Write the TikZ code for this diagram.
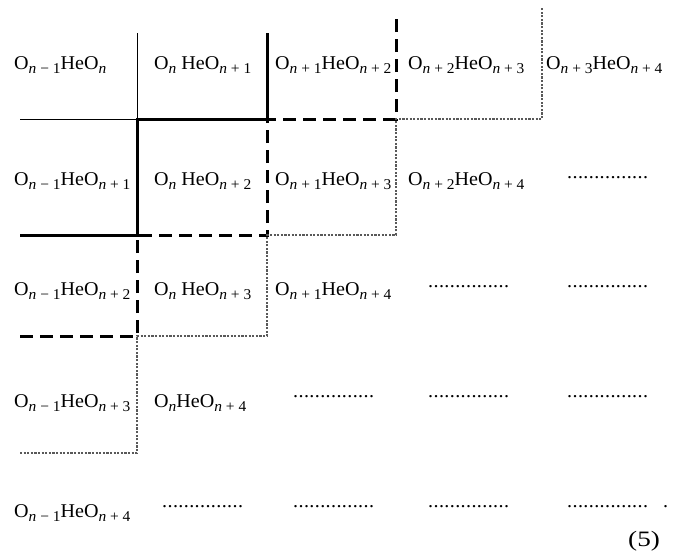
\documentclass[tikz,border=0pt]{standalone}
\usepackage{fontspec}
\setmainfont{Liberation Serif}[FakeStretch=1.03]
\newcommand\lw[1]{\raisebox{-4pt}{\fontsize{15}{16}\selectfont #1}}
\newcommand\nn{\textit{n}}
\newcommand\dt{.\kern0.4pt}
\newcommand\dts{\dt\dt\dt\dt\dt\dt\dt\dt\dt\dt\dt\dt\dt\dt.}
\tikzset{
  lbl/.style={anchor=base west, inner sep=0pt, font=\fontsize{19.5}{22}\selectfont},
  dotsnode/.style={anchor=west, inner sep=0pt, font=\fontsize{19.5}{22}\selectfont},
  thinrule/.style={line width=1pt},
  thickrule/.style={line width=3pt},
  dashrule/.style={line width=3pt, dash pattern=on 13pt off 7pt},
  dotrule/.style={line width=1.1pt, black!65, dash pattern=on 2.2pt off 1.4pt}
}
\begin{document}
\begin{tikzpicture}[x=1pt,y=-1pt]
\useasboundingbox (0,0) rectangle (674,550);
% grid coordinates
\coordinate (L1) at (20,119);  \coordinate (A1) at (137,119); \coordinate (A0) at (137,33);
\coordinate (L2) at (20,235);  \coordinate (A2) at (137,235); \coordinate (B1) at (267,119); \coordinate (B0) at (267,33);
\coordinate (L3) at (20,336);  \coordinate (A3) at (137,336); \coordinate (B2) at (267,235); \coordinate (C1) at (396,119); \coordinate (C0) at (396,15);
\coordinate (L4) at (20,453);  \coordinate (A4) at (137,453); \coordinate (B3) at (267,336); \coordinate (C2) at (396,235); \coordinate (D1) at (542,119); \coordinate (D0) at (542,7);
% staircases
\draw[thinrule] (L1) -- (A1) -- (A0);
\draw[thickrule] (L2) -- (A2) -- (A1) -- (B1) -- (B0);
\draw[dashrule] (L3) -- (A3) -- (A2) -- (B2) -- (B1) -- (C1) -- (C0);
\draw[dotrule] (L4) -- (A4) -- (A3) -- (B3) -- (B2) -- (C2) -- (C1) -- (D1) -- (D0);
% row 0
\node[lbl] (r0c0) at (14,69)  {O\lw{\nn{} − 1}HeO\lw{\nn}};
\node[lbl] (r0c1) at (154,69) {O\lw{\nn} HeO\lw{\nn{} + 1}};
\node[lbl] (r0c2) at (275,69) {O\lw{\nn{} + 1}HeO\lw{\nn{} + 2}};
\node[lbl] (r0c3) at (408,69) {O\lw{\nn{} + 2}HeO\lw{\nn{} + 3}};
\node[lbl] (r0c4) at (546,69) {O\lw{\nn{} + 3}HeO\lw{\nn{} + 4}};
% row 1
\node[lbl] (r1c0) at (14,185)  {O\lw{\nn{} − 1}HeO\lw{\nn{} + 1}};
\node[lbl] (r1c1) at (154,185) {O\lw{\nn} HeO\lw{\nn{} + 2}};
\node[lbl] (r1c2) at (275,185) {O\lw{\nn{} + 1}HeO\lw{\nn{} + 3}};
\node[lbl] (r1c3) at (408,185) {O\lw{\nn{} + 2}HeO\lw{\nn{} + 4}};
\node[dotsnode] (r1c4) at (567,177.7) {\dts};
% row 2
\node[lbl] (r2c0) at (14,295)  {O\lw{\nn{} − 1}HeO\lw{\nn{} + 2}};
\node[lbl] (r2c1) at (154,295) {O\lw{\nn} HeO\lw{\nn{} + 3}};
\node[lbl] (r2c2) at (275,295) {O\lw{\nn{} + 1}HeO\lw{\nn{} + 4}};
\node[dotsnode] (r2c3) at (428,286.7) {\dts};
\node[dotsnode] (r2c4) at (567,286.7) {\dts};
% row 3
\node[lbl] (r3c0) at (14,407)  {O\lw{\nn{} − 1}HeO\lw{\nn{} + 3}};
\node[lbl] (r3c1) at (154,407) {O\lw{\nn}HeO\lw{\nn{} + 4}};
\node[dotsnode] (r3c2) at (293,396.7) {\dts};
\node[dotsnode] (r3c3) at (428,396.7) {\dts};
\node[dotsnode] (r3c4) at (567,396.7) {\dts};
% row 4
\node[lbl] (r4c0) at (14,517)  {O\lw{\nn{} − 1}HeO\lw{\nn{} + 4}};
\node[dotsnode] (r4c1) at (162,506.5) {\dts};
\node[dotsnode] (r4c2) at (293,506.5) {\dts};
\node[dotsnode] (r4c3) at (428,506.5) {\dts};
\node[dotsnode] (r4c4) at (567,506.5) {\dts\kern15pt.};
% equation number
\node[lbl] (eqn) at (628,546) {\fontsize{22}{24}\selectfont\scalebox{1.2}[1]{(5)}};
\end{tikzpicture}
\end{document}
